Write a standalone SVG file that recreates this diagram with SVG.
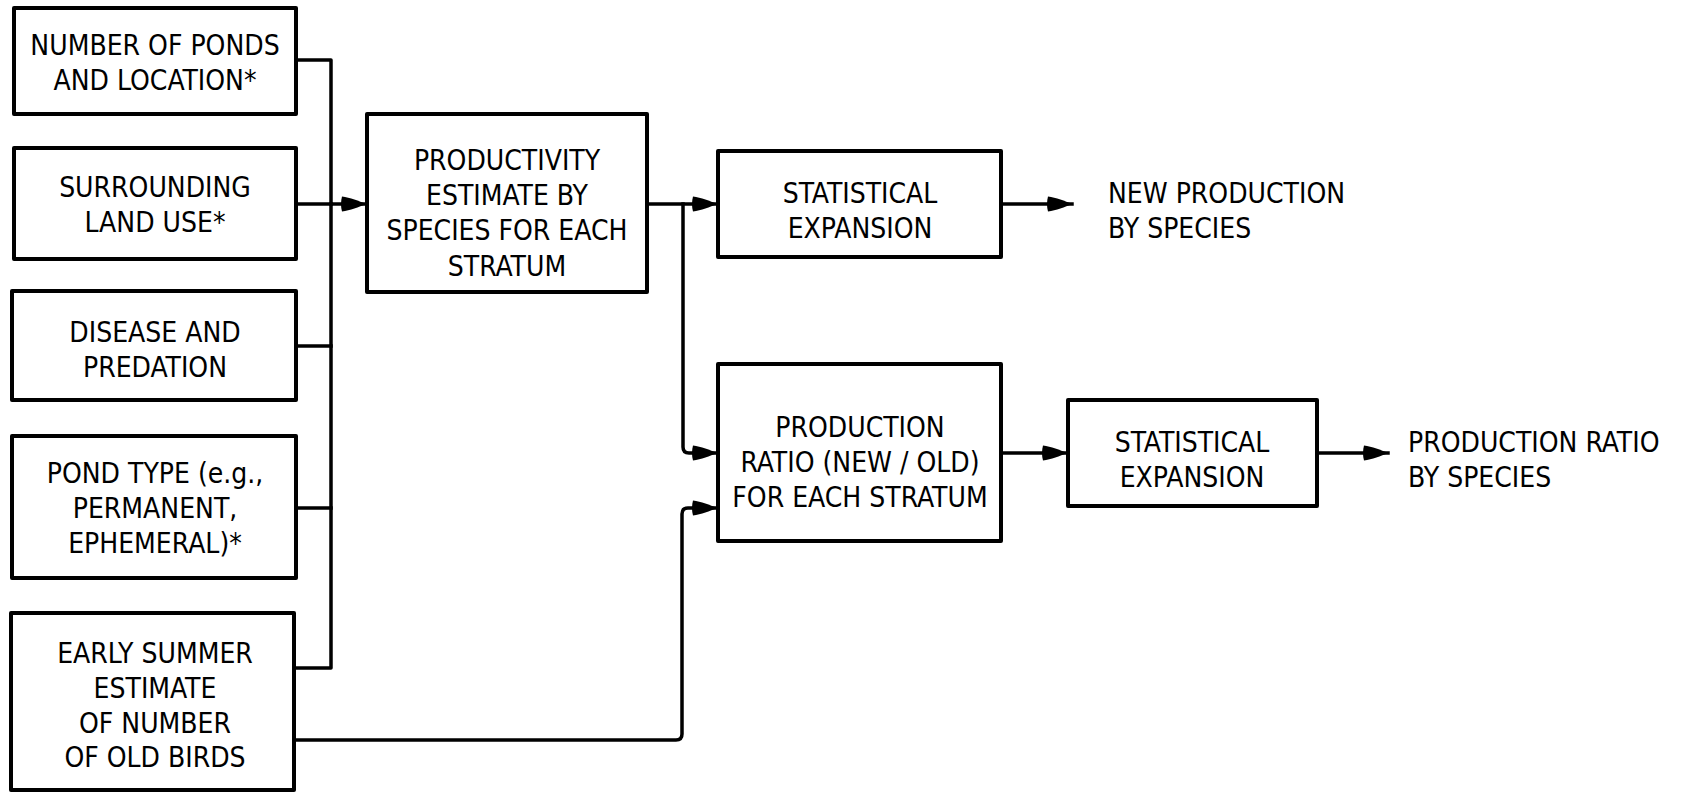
<svg xmlns="http://www.w3.org/2000/svg" width="1682" height="793" viewBox="0 0 1682 793">
  <style>
    .box { fill: #ffffff; stroke: #000000; stroke-width: 4; stroke-linejoin: round; }
    .lbl { font-family: "DejaVu Sans Condensed", "DejaVu Sans", "Liberation Sans", sans-serif; font-stretch: condensed; font-size: 28px; fill: #000000; }
    .c { text-anchor: middle; }
    .wire { fill: none; stroke: #000000; stroke-width: 3.5; stroke-linejoin: round; stroke-linecap: square; }
  </style>
  <defs>
    <!-- solid bullet-shaped arrowhead, tip at the line end -->
    <marker id="arrow" markerUnits="userSpaceOnUse" markerWidth="28" markerHeight="18" refX="26" refY="9" orient="auto">
      <path d="M2,1.5 C10,2.5 19,6 26,9 C19,12 10,15.5 2,16.5 Q0,9 2,1.5 Z" fill="#000000"/>
    </marker>
  </defs>
  <rect width="1682" height="793" fill="#ffffff"/>

  <!-- connectors -->
  <g id="connectors">
    <!-- input bus collecting the five factors -->
    <path class="wire" d="M296,60 H331 V668 H294"/>
    <path class="wire" d="M296,204 H331"/>
    <path class="wire" d="M296,346 H331"/>
    <path class="wire" d="M296,508 H331"/>
    <path class="wire" d="M331,204 H366" marker-end="url(#arrow)"/>
    <!-- productivity estimate fans out -->
    <path class="wire" d="M647,204 H717" marker-end="url(#arrow)"/>
    <path class="wire" d="M683,204 V447 Q683,453 689,453 H717" marker-end="url(#arrow)"/>
    <!-- old-bird estimate into the production ratio -->
    <path class="wire" d="M294,740 H676 Q682,740 682,734 V514 Q682,508 688,508 H717" marker-end="url(#arrow)"/>
    <!-- expansions and outputs -->
    <path class="wire" d="M1001,204 H1072" marker-end="url(#arrow)"/>
    <path class="wire" d="M1001,453 H1067" marker-end="url(#arrow)"/>
    <path class="wire" d="M1317,453 H1388" marker-end="url(#arrow)"/>
  </g>

  <g id="ponds">
    <rect class="box" x="14" y="8" width="282" height="106"/>
    <text class="lbl c" x="155" y="55">NUMBER OF PONDS</text>
    <text class="lbl c" x="155" y="90">AND LOCATION*</text>
  </g>
  <g id="landuse">
    <rect class="box" x="14" y="148" width="282" height="111"/>
    <text class="lbl c" x="155" y="197">SURROUNDING</text>
    <text class="lbl c" x="155" y="232">LAND USE*</text>
  </g>
  <g id="disease">
    <rect class="box" x="12" y="291" width="284" height="109"/>
    <text class="lbl c" x="155" y="342">DISEASE AND</text>
    <text class="lbl c" x="155" y="377">PREDATION</text>
  </g>
  <g id="pondtype">
    <rect class="box" x="12" y="436" width="284" height="142"/>
    <text class="lbl c" x="155" y="483">POND TYPE (e.g.,</text>
    <text class="lbl c" x="155" y="518">PERMANENT,</text>
    <text class="lbl c" x="155" y="553">EPHEMERAL)*</text>
  </g>
  <g id="oldbirds">
    <rect class="box" x="11" y="613" width="283" height="177"/>
    <text class="lbl c" x="155" y="663">EARLY SUMMER</text>
    <text class="lbl c" x="155" y="698">ESTIMATE</text>
    <text class="lbl c" x="155" y="733">OF NUMBER</text>
    <text class="lbl c" x="155" y="767">OF OLD BIRDS</text>
  </g>
  <g id="productivity">
    <rect class="box" x="367" y="114" width="280" height="178"/>
    <text class="lbl c" x="507" y="170">PRODUCTIVITY</text>
    <text class="lbl c" x="507" y="205">ESTIMATE BY</text>
    <text class="lbl c" x="507" y="240">SPECIES FOR EACH</text>
    <text class="lbl c" x="507" y="276">STRATUM</text>
  </g>
  <g id="expansion-new">
    <rect class="box" x="718" y="151" width="283" height="106"/>
    <text class="lbl c" x="860" y="203">STATISTICAL</text>
    <text class="lbl c" x="860" y="238">EXPANSION</text>
  </g>
  <g id="ratio">
    <rect class="box" x="718" y="364" width="283" height="177"/>
    <text class="lbl c" x="860" y="437">PRODUCTION</text>
    <text class="lbl c" x="860" y="472">RATIO (NEW / OLD)</text>
    <text class="lbl c" x="860" y="507">FOR EACH STRATUM</text>
  </g>
  <g id="expansion-ratio">
    <rect class="box" x="1068" y="400" width="249" height="106"/>
    <text class="lbl c" x="1192" y="452">STATISTICAL</text>
    <text class="lbl c" x="1192" y="487">EXPANSION</text>
  </g>
  <g id="out-new">
    <text class="lbl" x="1108" y="203">NEW PRODUCTION</text>
    <text class="lbl" x="1108" y="238">BY SPECIES</text>
  </g>
  <g id="out-ratio">
    <text class="lbl" x="1408" y="452">PRODUCTION RATIO</text>
    <text class="lbl" x="1408" y="487">BY SPECIES</text>
  </g>
</svg>
